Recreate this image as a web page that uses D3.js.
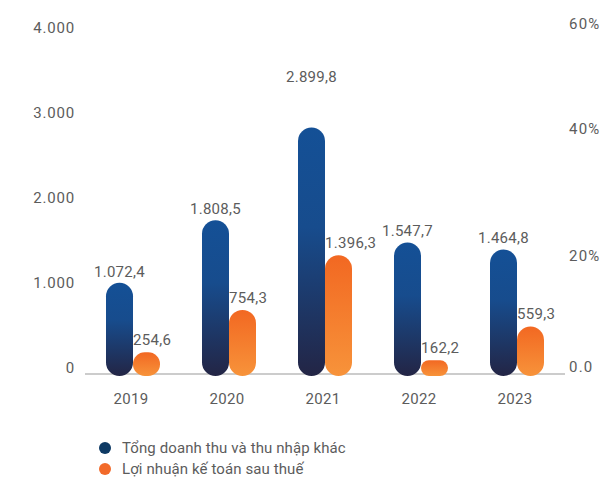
<!DOCTYPE html>
<html>
<head>
<meta charset="utf-8">
<script src="https://cdn.jsdelivr.net/npm/d3@7"></script>
<style>
  html, body { margin: 0; padding: 0; background: #fff; }
  svg { display: block; font-family: Roboto, "Noto Sans", sans-serif; }
</style>
</head>
<body>
<svg id="chart" width="602" height="482"></svg>
<script>
// Years on the x axis
const years = ["2019", "2020", "2021", "2022", "2023"];
// Tổng doanh thu và thu nhập khác (tỷ đồng)
const revenue = [1072.4, 1808.5, 2899.8, 1547.7, 1464.8];
// Lợi nhuận kế toán sau thuế (tỷ đồng)
const profit = [254.6, 754.3, 1396.3, 162.2, 559.3];
// Axis ticks
const leftTicks = [0, 1000, 2000, 3000, 4000];
const rightTicks = [0, 20, 40, 60];
const rightTickLabels = ["0.0", "20%", "40%", "60%"];
const seriesNames = ["Tổng doanh thu và thu nhập khác", "Lợi nhuận kế toán sau thuế"];

// extra lift for the revenue labels (layout tweak)
const revLabelLift = [0, 0, 39, 0, 0];

const fmt = v => {
  const s = v.toFixed(1).split(".");
  const intPart = s[0].replace(/\B(?=(\d{3})+(?!\d))/g, ".");
  return intPart + "," + s[1];
};

const svg = d3.select("#chart");
const textColor = "#5c5c5c";

const x = d3.scaleBand().domain(years).range([85, 565]);
const y = d3.scaleLinear().domain([0, 4000]).range([374, 34]);
const yRight = d3.scaleLinear().domain([0, 20, 40, 60]).range([368, 257, 130, 25]);

// gradients
const defs = svg.append("defs");
const gBlue = defs.append("linearGradient").attr("id", "gBlue")
  .attr("x1", 0).attr("y1", 0).attr("x2", 0).attr("y2", 1);
gBlue.append("stop").attr("offset", "0%").attr("stop-color", "#145096");
gBlue.append("stop").attr("offset", "40%").attr("stop-color", "#174c8d");
gBlue.append("stop").attr("offset", "100%").attr("stop-color", "#232545");
const gOrange = defs.append("linearGradient").attr("id", "gOrange")
  .attr("x1", 0).attr("y1", 0).attr("x2", 0).attr("y2", 1);
gOrange.append("stop").attr("offset", "0%").attr("stop-color", "#f26822");
gOrange.append("stop").attr("offset", "100%").attr("stop-color", "#f7933a");

// left axis labels
svg.append("g").selectAll("text").data(leftTicks).join("text")
  .attr("x", 75).attr("y", d => y(d) - 5)
  .attr("text-anchor", "end").attr("dominant-baseline", "middle")
  .attr("font-size", 15).attr("letter-spacing", 0.8).attr("fill", textColor)
  .text(d => d3.format(",")(d).replace(/,/g, "."));

// right axis labels
svg.append("g").selectAll("text").data(rightTicks).join("text")
  .attr("x", 569).attr("y", d => yRight(d))
  .attr("text-anchor", "start").attr("dominant-baseline", "middle")
  .attr("font-size", 15).attr("letter-spacing", 1.2).attr("fill", textColor)
  .text((d, i) => rightTickLabels[i]);

// baseline
svg.append("line")
  .attr("x1", 85).attr("x2", 565)
  .attr("y1", y(0)).attr("y2", y(0))
  .attr("stroke", "#9a9a9a").attr("stroke-width", 1.2);

const barW = 27;
const bottom = y(0) + 2;

function pill(sel, vals, offset, fill) {
  sel.selectAll("rect").data(vals).join("rect")
    .attr("x", (d, i) => x(years[i]) + x.bandwidth() / 2 + offset)
    .attr("y", d => y(d))
    .attr("width", barW)
    .attr("height", d => bottom - y(d))
    .attr("rx", d => Math.min(barW / 2, (bottom - y(d)) / 2))
    .attr("fill", fill);
}

pill(svg.append("g"), revenue, -barW, "url(#gBlue)");
pill(svg.append("g"), profit, 0, "url(#gOrange)");

// revenue labels
svg.append("g").selectAll("text").data(revenue).join("text")
  .attr("x", (d, i) => x(years[i]) + x.bandwidth() / 2 - barW / 2)
  .attr("y", (d, i) => y(d) - 10 - revLabelLift[i])
  .attr("text-anchor", "middle").attr("dominant-baseline", "middle")
  .attr("font-size", 15).attr("letter-spacing", 0.3).attr("fill", textColor)
  .text(d => fmt(d));

// profit labels
svg.append("g").selectAll("text").data(profit).join("text")
  .attr("x", (d, i) => x(years[i]) + x.bandwidth() / 2)
  .attr("y", d => y(d) - 11)
  .attr("text-anchor", "start").attr("dominant-baseline", "middle")
  .attr("font-size", 15).attr("letter-spacing", 0.3).attr("fill", textColor)
  .text(d => fmt(d));

// year labels
svg.append("g").selectAll("text").data(years).join("text")
  .attr("x", d => x(d) + x.bandwidth() / 2 - 2)
  .attr("y", 400)
  .attr("text-anchor", "middle").attr("dominant-baseline", "middle")
  .attr("font-size", 15).attr("letter-spacing", 0.3).attr("fill", textColor)
  .text(d => d);

// legend
const legendColors = ["#0e3a64", "#f26a2a"];
const lg = svg.append("g").selectAll("g").data(seriesNames).join("g")
  .attr("transform", (d, i) => `translate(105, ${448 + i * 21})`);
lg.append("circle").attr("r", 6).attr("cx", 0).attr("cy", 0)
  .attr("fill", (d, i) => legendColors[i]);
lg.append("text").attr("x", 17).attr("y", 1)
  .attr("dominant-baseline", "middle")
  .attr("font-size", 15).attr("letter-spacing", 0.1).attr("fill", textColor)
  .text(d => d);
</script>
</body>
</html>
